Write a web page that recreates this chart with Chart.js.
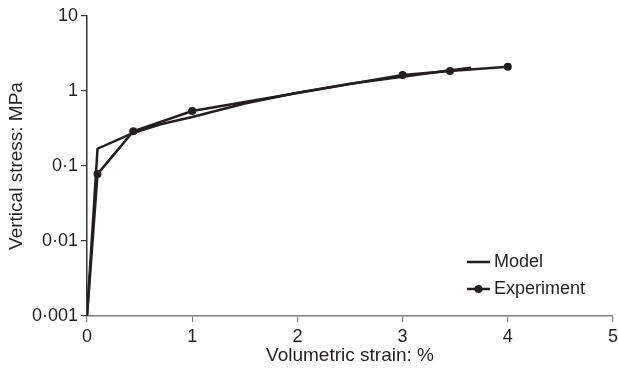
<!DOCTYPE html>
<html>
<head>
<meta charset="utf-8">
<script src="https://cdn.jsdelivr.net/npm/chart.js@4"></script>
<style>
  html, body { margin: 0; padding: 0; background: #fff; }
  #wrap { width: 618px; height: 371px; }
</style>
</head>
<body>
<div id="wrap"><canvas id="chart" width="618" height="371"></canvas></div>
<script>
// values
const modelStrain = [0, 0.1, 0.45, 0.7, 1.0, 1.5, 2.0, 2.5, 3.0, 3.4, 3.65];
const modelStress = [0.001, 0.17, 0.28, 0.36, 0.45, 0.68, 0.95, 1.25, 1.55, 1.85, 2.05];

const expStrain = [0, 0.1, 0.44, 1.0, 3.0, 3.45, 4.0];
const expStress = [0.001, 0.078, 0.29, 0.54, 1.63, 1.85, 2.1];

const yTicks = [0.001, 0.01, 0.1, 1, 10];
const yTickLabels = ['0·001', '0·01', '0·1', '1', '10'];
const xTicks = [0, 1, 2, 3, 4, 5];

const ink = '#231f20';
const font = "'Liberation Sans', Arial, sans-serif";

function toPoints(xs, ys) {
    return xs.map((x, i) => ({ x: x, y: ys[i] }));
}

// legend in the lower right corner of the plot
const cornerLegend = {
    id: 'cornerLegend',
    afterDraw(chart) {
        const ctx = chart.ctx;
        const area = chart.chartArea;
        const x0 = area.right - 146;
        const rows = [
            { text: 'Model', y: area.bottom - 54, dot: false },
            { text: 'Experiment', y: area.bottom - 27, dot: true }
        ];
        ctx.save();
        ctx.strokeStyle = ink;
        ctx.fillStyle = ink;
        ctx.lineWidth = 2.5;
        ctx.font = '18px ' + font;
        ctx.textBaseline = 'middle';
        rows.forEach(r => {
            ctx.beginPath();
            ctx.moveTo(x0, r.y);
            ctx.lineTo(x0 + 23, r.y);
            ctx.stroke();
            if (r.dot) {
                ctx.beginPath();
                ctx.arc(x0 + 11.5, r.y, 4, 0, Math.PI * 2);
                ctx.fill();
            }
            ctx.fillText(r.text, x0 + 27, r.y);
        });
        ctx.restore();
    }
};

new Chart(document.getElementById('chart').getContext('2d'), {
    type: 'line',
    data: {
        datasets: [
            {
                label: 'Model',
                data: toPoints(modelStrain, modelStress),
                borderColor: ink,
                borderWidth: 2.5,
                pointRadius: 0,
                tension: 0,
                fill: false
            },
            {
                label: 'Experiment',
                data: toPoints(expStrain, expStress),
                borderColor: ink,
                backgroundColor: ink,
                borderWidth: 2.5,
                pointRadius: [0, 4, 4, 4, 4, 4, 4],
                pointBorderWidth: 0,
                tension: 0,
                fill: false
            }
        ]
    },
    options: {
        responsive: false,
        animation: false,
        layout: { padding: { top: 16, right: 5, left: 5, bottom: 4 } },
        plugins: {
            legend: { display: false },
            tooltip: { enabled: false }
        },
        scales: {
            x: {
                type: 'linear',
                min: 0,
                max: 5,
                afterBuildTicks: axis => { axis.ticks = xTicks.map(v => ({ value: v })); },
                afterFit: axis => { axis.height = 51; axis.paddingRight = 0; axis.paddingLeft = 0; },
                grid: { drawOnChartArea: false, drawTicks: true, tickLength: 6, color: '#808080', lineWidth: 1.2 },
                border: { display: true, color: '#808080', width: 1.5 },
                ticks: { color: ink, padding: 4, font: { family: font, size: 18 } },
                title: {
                    display: true,
                    text: 'Volumetric strain: %',
                    color: ink,
                    padding: { top: 0, bottom: 0 },
                    font: { family: font, size: 19 }
                }
            },
            y: {
                type: 'logarithmic',
                min: 0.001,
                max: 10,
                afterBuildTicks: axis => { axis.ticks = yTicks.map(v => ({ value: v })); },
                afterFit: axis => { axis.width = 82; },
                grid: { drawOnChartArea: false, drawTicks: true, tickLength: 6, color: '#333', lineWidth: 1.2 },
                border: { display: true, color: '#333', width: 1.5 },
                ticks: {
                    color: ink,
                    padding: 3,
                    font: { family: font, size: 18 },
                    callback: (v) => {
                        const i = yTicks.findIndex(t => Math.abs(t - v) < t * 1e-6);
                        return i >= 0 ? yTickLabels[i] : '';
                    }
                },
                title: {
                    display: true,
                    text: 'Vertical stress: MPa',
                    color: ink,
                    padding: { top: 0, bottom: 0 },
                    font: { family: font, size: 19 }
                }
            }
        }
    },
    plugins: [cornerLegend]
});
</script>
</body>
</html>
